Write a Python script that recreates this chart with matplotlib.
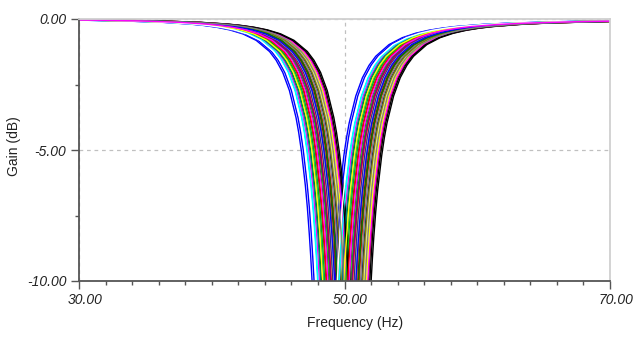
import numpy as np
import matplotlib
matplotlib.use('Agg')
import matplotlib.pyplot as plt
from matplotlib.ticker import FixedLocator, MultipleLocator, FuncFormatter
import matplotlib.transforms as mtransforms

# notch shape: gain (dB) vs offset from the notch centre (Hz)
offset_hz = [-22, -18, -15, -12, -10, -9, -8, -7, -6, -5, -4, -3.5, -3, -2.5,
             -2, -1.8, -1.6, -1.3, -1.15, -1.0, -0.9, -0.8, -0.7, -0.6,
             0.6, 0.7, 0.8, 0.9, 1.0, 1.15, 1.3, 1.6, 1.8, 2.0, 2.5, 3.0,
             3.5, 4, 5, 6, 7, 8, 9, 10, 12, 14, 18, 22]
gain_db = [-0.027, -0.047, -0.075, -0.128, -0.193, -0.244, -0.314, -0.416,
           -0.570, -0.816, -1.240, -1.574, -2.041, -2.731, -3.768, -4.334,
           -5.031, -6.354, -7.185, -8.225, -9.021, -9.930, -10.997, -12.25,
           -12.35, -11.11, -10.06, -9.158, -8.373, -7.369, -6.529, -5.223,
           -4.536, -3.973, -2.939, -2.240, -1.768, -1.424, -0.978, -0.714,
           -0.544, -0.429, -0.348, -0.288, -0.208, -0.158, -0.101, -0.072]

# notch centre of every curve (Hz), in drawing order
centre_hz = [50.3, 49.6, 50.7, 48.35, 48.55, 49.9, 48.9, 49.2, 50.5, 51.0,
             49.7, 50.1, 49.4, 50.6, 48.75, 51.2, 49.8, 49.05, 50.85, 48.5,
             49.5, 50.4, 50.95, 49.0, 49.95, 50.2, 49.3, 50.55, 49.75, 50.0,
             48.8, 51.1, 49.45, 50.25, 49.15, 50.05, 48.65, 50.75, 49.55]

palette = ['#ff0000', '#008000', '#ffff00', '#0000ff', '#ffffff', '#808080',
           '#ff00ff', '#008080', '#000080', '#800000', '#00c000', '#808000',
           '#800080', '#c0c0c0', '#00ffff', '#000000']

x_major = [30, 50, 70]
y_major = [0, -5, -10]

fig = plt.figure(figsize=(6.4, 3.46), dpi=100)
ax = fig.add_axes([79/640, 1-281/346, 531/640, 262/346])

off = np.array(offset_hz)
for i, c in enumerate(centre_hz):
    ax.plot(off + c, gain_db, color=palette[i % len(palette)], lw=1.0)

ax.set_xlim(30, 70)
ax.set_ylim(-10, 0)

ax.xaxis.set_major_locator(FixedLocator(x_major))
ax.xaxis.set_minor_locator(MultipleLocator(2))
ax.yaxis.set_major_locator(FixedLocator(y_major))
ax.yaxis.set_minor_locator(FixedLocator([-2.5, -7.5]))
fmt = FuncFormatter(lambda v, p: '%.2f' % v)
ax.xaxis.set_major_formatter(fmt)
ax.yaxis.set_major_formatter(fmt)

ax.tick_params(which='major', length=6, width=1, color='#555555',
               labelsize=10, labelcolor='#222222', pad=3)
ax.tick_params(which='minor', length=3, width=1, color='#555555')
for lab in ax.get_xticklabels() + ax.get_yticklabels():
    lab.set_fontstyle('italic')
    lab.set_family('Liberation Sans')

shift = mtransforms.ScaledTranslation(6/100, 0, fig.dpi_scale_trans)
for lab in ax.get_xticklabels():
    lab.set_transform(lab.get_transform() + shift)

ax.grid(True, which='major', color='#c0c0c0', linestyle=(0, (3, 3)), lw=0.9)
ax.set_axisbelow(True)

for s in ['left', 'bottom']:
    ax.spines[s].set_color('#555555')
    ax.spines[s].set_linewidth(1.3)
for s in ['top', 'right']:
    ax.spines[s].set_color('#d0d0d0')
    ax.spines[s].set_linewidth(1.3)

fig.text(355/640, 1-323/346, 'Frequency (Hz)', ha='center', va='center',
         fontsize=10, family='Liberation Sans', color='#222222')
fig.text(14/640, 1-146/346, 'Gain (dB)', ha='center', va='center',
         rotation=90, fontsize=10, family='Liberation Sans', color='#222222')

fig.savefig('out.png', dpi=100)
